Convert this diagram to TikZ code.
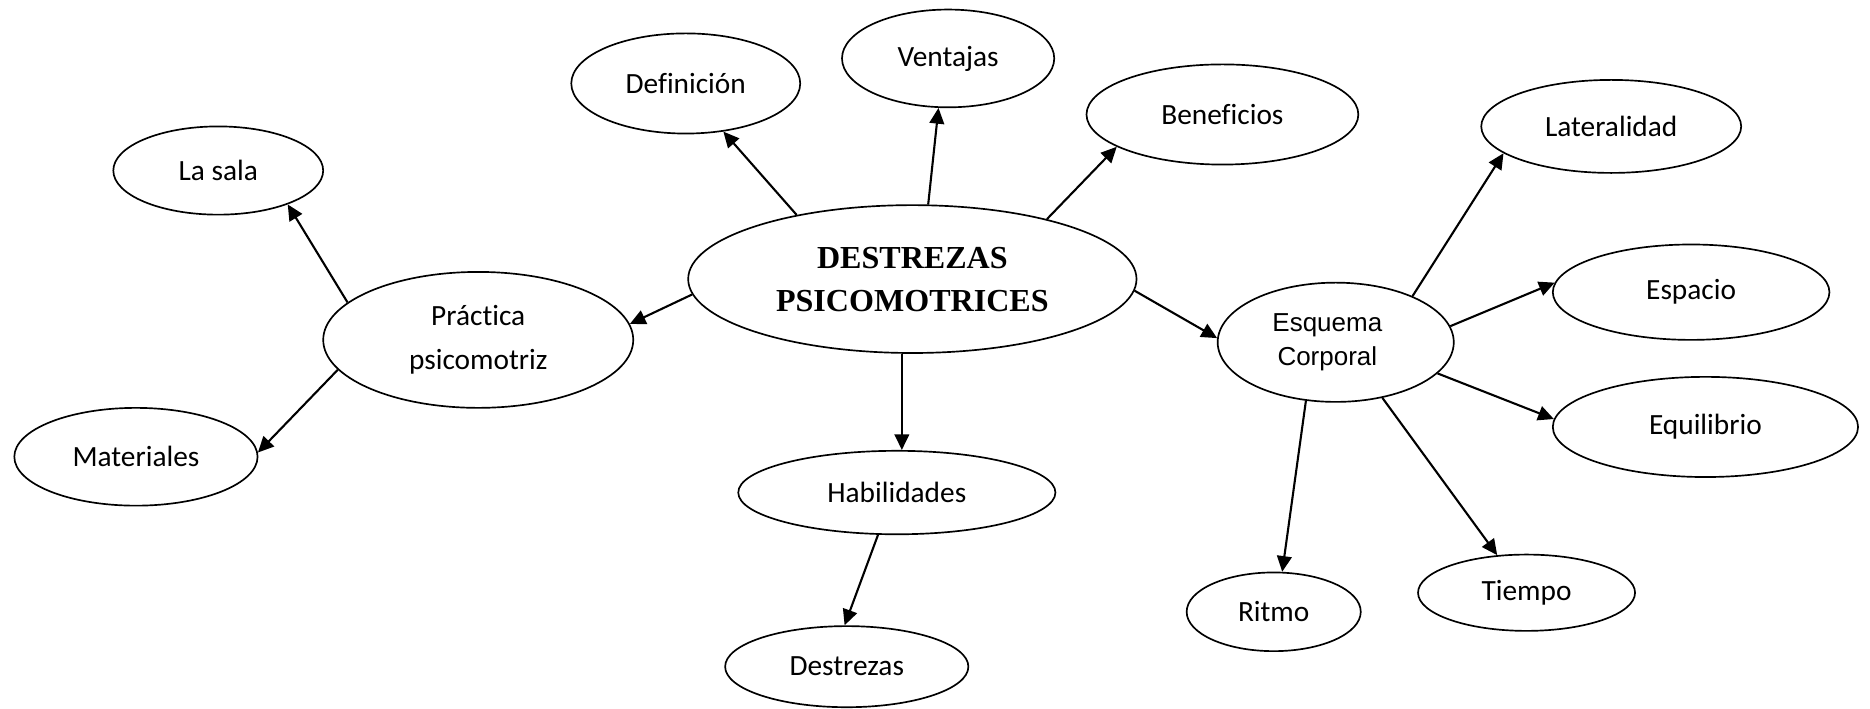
\documentclass[tikz,border=0pt]{standalone}
\usepackage{fontspec}
\setmainfont{Carlito}[Ligatures={CommonOff,ContextualOff},RawFeature={-liga;-clig;-calt}]
\newfontfamily\titlefont{Liberation Serif}
\newfontfamily\arialfont{Liberation Sans}
\usetikzlibrary{shapes.geometric,arrows.meta}
\begin{document}
\begin{tikzpicture}[x=0.02cm,y=-0.02cm,
  bub/.style={draw,ellipse,line width=0.8pt,inner sep=0pt,align=center,
    font=\fontsize{14}{21}\selectfont},
  sz/.style 2 args={minimum width={#1*0.569055pt},minimum height={#2*0.569055pt}},
  link/.style={line width=1pt,-{Triangle[length=7.5pt,width=7pt]}}]
\useasboundingbox (0,0) rectangle (1568,594);
\node[bub,sz={376}{124},font=\titlefont\bfseries\fontsize{15.3}{20.5}\selectfont] (c) at (765,234) {DESTREZAS\\PSICOMOTRICES};
\node[bub,sz={192}{84}] (def) at (575,70) {Definición};
\node[bub,sz={178}{82}] (ven) at (795,49) {Ventajas};
\node[bub,sz={228}{84}] (ben) at (1025,96) {Benef\kern0pt icios};
\node[bub,sz={176}{74}] (sala) at (183,143) {La sala};
\node[bub,sz={260}{114}] (pra) at (401,285) {Práct\kern0pt ica\\psicomotriz};
\node[bub,sz={204}{82}] (mat) at (114,383) {Materiales};
\node[bub,sz={266}{70}] (hab) at (752,413) {Habilidades};
\node[bub,sz={204}{68}] (des) at (710,559) {Destrezas};
\node[bub,sz={198}{100},font=\arialfont\fontsize{12.4}{16.5}\selectfont] (esq) at (1120,287) {\raisebox{-3pt}{Esquema\hspace*{8pt}}\\\raisebox{-3pt}{Corporal\hspace*{8pt}}};
\node[bub,sz={218}{78}] (lat) at (1351,106) {Lateralidad};
\node[bub,sz={232}{80}] (esp) at (1418,245) {Espacio};
\node[bub,sz={256}{84}] (equ) at (1430,358) {Equilibrio};
\node[bub,sz={146}{66}] (rit) at (1068,513) {Ritmo};
\node[bub,sz={182}{64}] (tie) at (1280,497) {Tiempo};
\draw[link] (c.151.6) -- (def.-52.1);
\draw[link] (c.78.5) -- (ven.259.7);
\draw[link] (c.24.2) -- (ben.197.6);
\draw[link] (c.184.9) -- (pra.6.1);
\draw[link] (c.-3.6) -- (esq.178.9);
\draw[link] (c.262.6) -- (c.262.6 |- hab.north);
\draw[link] (pra.164.7) -- (sala.-26.6);
\draw[link] (pra.192.6) -- (mat.2.2);
\draw[link] (hab.246.8) -- (des.93.5);
\draw[link] (esq.31.9) -- (lat.194.2);
\draw[link] (esq.8.6) -- (esp.176.5);
\draw[link] (esq.-17.7) -- (equ.177.8);
\draw[link] (esq.243.4) -- (rit.78.0);
\draw[link] (esq.-50.1) -- (tie.128.4);
\end{tikzpicture}
\end{document}
